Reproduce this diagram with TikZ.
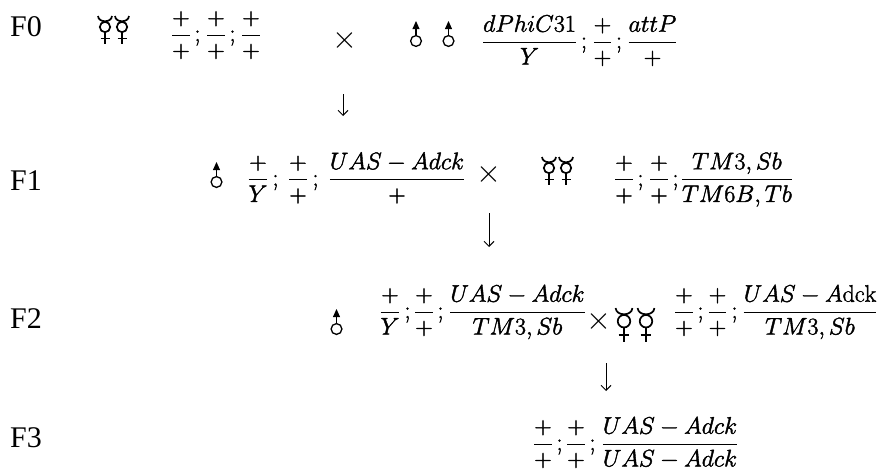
\RequirePackage{fix-cm}
\documentclass[tikz,border=0pt]{standalone}
\usepackage{fontspec}
\newfontfamily\labfont{Liberation Serif}
\usetikzlibrary{arrows.meta}
\newcommand\fr[2]{$\displaystyle\frac{#1}{#2}$}
\newcommand\mfs{\fontsize{24}{24}\selectfont}
\newcommand\heavyon{\special{pdf:literal direct 2 Tr 0.4 w}}
\newcommand\heavyoff{\special{pdf:literal direct 0 Tr}}
\newcommand\genlab[1]{{\labfont\fontsize{30}{30}\selectfont #1}}
\begin{document}
\begin{tikzpicture}[x=1pt,y=-1pt,
  genlabel/.style={inner sep=0pt, anchor=base west},
  geno/.style={inner sep=0pt, anchor=base, font=\mfs\heavyon, execute at end node={\heavyoff}},
  crosssym/.style={inner sep=0pt, anchor=center, font=\fontsize{32}{32}\selectfont},
  descent/.style={line width=1pt, -{Straight Barb[length=5pt,width=10pt,line width=1pt]}},
  mercury/.pic={
    \draw[line width=1.7pt] (-7,0) .. controls (-6.5,7) and (6.5,7) .. (7,0);
    \draw[line width=1.7pt] (0,11) circle[radius=5.2pt];
    \draw[line width=1.7pt] (0,16.2) -- (0,28) (-4.5,22.5) -- (4.5,22.5);
  },
  male/.pic={
    \draw[line width=1.3pt] (0,0) circle[radius=5.4pt];
    \draw[line width=1.3pt] (0,-5.4) -- (0,-13);
    \fill (-3.6,-12) -- (0,-20) -- (3.6,-12) -- cycle;
  }]
\fill[white] (0,0) rectangle (880,474);
\useasboundingbox (0,0) rectangle (880,474);

% generation labels
\node[genlabel] (lab0) at (10,36) {\genlab{F0}};
\node[genlabel] (lab1) at (10,190) {\genlab{F1}};
\node[genlabel] (lab2) at (10,328) {\genlab{F2}};
\node[genlabel] (lab3) at (10,447) {\genlab{F3}};

% ---------- F0 ----------
\pic at (105,16) {mercury};
\pic at (122,16) {mercury};
\node[geno] (f0a) at (181,41) {\fr{+}{+}};
\node[geno] (f0s1) at (197.5,41) {$;$};
\node[geno] (f0b) at (216,41) {\fr{+}{+}};
\node[geno] (f0s2) at (232.5,41) {$;$};
\node[geno] (f0c) at (251,41) {\fr{+}{+}};
\node[crosssym] (x0) at (345,40) {$\times$};
\pic at (416,41) {male};
\pic at (448.5,41) {male};
\node[geno] (f0d) at (529.5,48) {\fr{dPhiC31}{Y}};
\node[geno] (f0s3) at (584,48) {$;$};
\node[geno] (f0e) at (602.5,48) {\fr{+}{+}};
\node[geno] (f0s4) at (619,48) {$;$};
\node[geno] (f0f) at (652.5,48) {\fr{attP}{+}};

\coordinate (a1s) at (343,94);
\coordinate (a1e) at (343,116);
\draw[descent] (a1s) -- (a1e);

% ---------- F1 ----------
\pic at (216.5,182) {male};
\node[geno] (f1a) at (258,185.5) {\fr{+}{Y}};
\node[geno] (f1s1) at (275.5,185.5) {$;$};
\node[geno] (f1b) at (298,185.5) {\fr{+}{+}};
\node[geno] (f1s2) at (315.5,185.5) {$;$};
\node[geno] (f1c) at (397,185.5) {\fr{UAS-Adck}{+}};
\node[crosssym] (x1) at (489,174) {$\times$};
\pic at (549,157) {mercury};
\pic at (566,157) {mercury};
\node[geno] (f1d) at (624,185.5) {\fr{+}{+}};
\node[geno] (f1s3) at (640.5,185.5) {$;$};
\node[geno] (f1e) at (659,185.5) {\fr{+}{+}};
\node[geno] (f1s4) at (675.5,185.5) {$;$};
\node[geno] (f1f) at (737,185.5) {\fr{TM3,Sb}{TM6B,Tb}};

\coordinate (a2s) at (489,213);
\coordinate (a2e) at (489,247);
\draw[descent] (a2s) -- (a2e);

% ---------- F2 ----------
\pic at (336.5,329) {male};
\node[geno] (f2a) at (390,318) {\fr{+}{Y}};
\node[geno] (f2s1) at (407.5,318) {$;$};
\node[geno] (f2b) at (424,318) {\fr{+}{+}};
\node[geno] (f2s2) at (440.5,318) {$;$};
\node[geno] (f2c) at (517.5,318) {\fr{UAS-Adck}{TM3,Sb}};
\node[crosssym] (x2) at (599,321) {$\times$};
\pic[scale=1.2] at (624,308) {mercury};
\pic[scale=1.2] at (646,308) {mercury};
\node[geno] (f2d) at (684,318) {\fr{+}{+}};
\node[geno] (f2s3) at (700.5,318) {$;$};
\node[geno] (f2e) at (717.5,318) {\fr{+}{+}};
\node[geno] (f2s4) at (734.5,318) {$;$};
\node[geno] (f2f) at (810,318) {\fr{UAS-A\mathrm{dck}}{TM3,Sb}};

\coordinate (a3s) at (606,363);
\coordinate (a3e) at (606,391);
\draw[descent] (a3s) -- (a3e);

% ---------- F3 ----------
\node[geno] (f3a) at (543,450) {\fr{+}{+}};
\node[geno] (f3s1) at (559.5,450) {$;$};
\node[geno] (f3b) at (576,450) {\fr{+}{+}};
\node[geno] (f3s2) at (592.5,450) {$;$};
\node[geno] (f3c) at (670,450) {\fr{UAS-Adck}{UAS-Adck}};
\end{tikzpicture}
\end{document}
